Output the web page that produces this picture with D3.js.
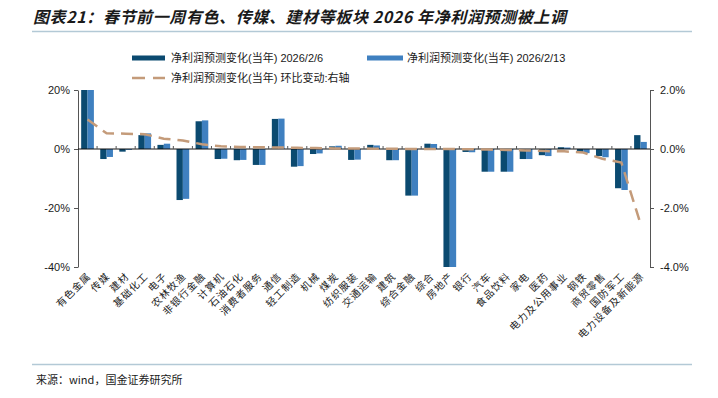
<!DOCTYPE html>
<html>
<head>
<meta charset="UTF-8">
<title>图表21</title>
<style>
    body { margin: 0; background: #ffffff; }
    text { font-family: "Liberation Sans", "Noto Sans CJK SC", sans-serif; fill: #1a1a1a; }
    .cjk { font-family: "Noto Sans CJK SC", sans-serif; }
</style>
</head>
<body>
<script src="https://cdn.jsdelivr.net/npm/d3@7/dist/d3.min.js"></script>
<script>

    //Chart data.
    var categories = ["有色金属", "传媒", "建材", "基础化工", "电子", "农林牧渔", "非银行金融", "计算机",
                      "石油石化", "消费者服务", "通信", "轻工制造", "机械", "煤炭", "纺织服装", "交通运输",
                      "建筑", "综合金融", "综合", "房地产", "银行", "汽车", "食品饮料", "家电", "医药",
                      "电力及公用事业", "钢铁", "商贸零售", "国防军工", "电力设备及新能源"];
    var forecastFeb6 = [20, -3.4, -0.9, 4.7, 1.4, -17.3, 9.4, -3.4, -3.8, -5.4, 10.2, -6.0, -1.7, 0.9, -3.7,
                        1.4, -3.8, -15.8, 1.8, -40, -1.0, -7.7, -7.7, -3.4, -2.1, 0.6, -1.1, -2.4, -13.3, 4.7];
    var forecastFeb13 = [20, -2.7, -0.3, 5.3, 1.8, -16.9, 9.7, -3.3, -3.7, -5.4, 10.3, -5.8, -1.5, 1.1, -3.6,
                         1.2, -3.8, -15.8, 1.7, -40, -1.1, -7.7, -7.7, -3.4, -2.4, 0.5, -1.4, -2.8, -13.9, 2.4];
    var weeklyChange = [1.0, 0.53, 0.52, 0.5, 0.35, 0.29, 0.16, 0.09, 0.07, 0.06, 0.05, 0.04, 0.03, 0.02, 0.02,
                        0.01, 0.01, 0.0, 0.0, 0.0, -0.01, -0.02, -0.03, -0.05, -0.07, -0.08, -0.12, -0.33, -0.46, -2.53];
    var leftTicks = [20, 0, -20, -40];
    var rightTicks = [2, 0, -2, -4];
    var seriesNames = ["净利润预测变化(当年) 2026/2/6", "净利润预测变化(当年) 2026/2/13",
                       "净利润预测变化(当年) 环比变动:右轴"];

    var darkBlue = "#0b4a70",
        lightBlue = "#3f80c0",
        lineColor = "#c49b7a";

    var svg = d3.select("body").append("svg")
                .attr("width", 718)
                .attr("height", 398);

    //Title and the rules above and below the chart.
    svg.append("text")
       .attr("class", "cjk")
       .attr("x", 33)
       .attr("y", 23)
       .attr("font-size", 16)
       .attr("font-weight", "bold")
       .attr("font-style", "italic")
       .attr("letter-spacing", 0.6)
       .text("图表21：春节前一周有色、传媒、建材等板块 2026 年净利润预测被上调");
    svg.append("line")
       .attr("x1", 32).attr("x2", 692)
       .attr("y1", 31.5).attr("y2", 31.5)
       .attr("stroke", "#b3c9d6").attr("stroke-width", 1.5);
    svg.append("line")
       .attr("x1", 32).attr("x2", 692)
       .attr("y1", 364.5).attr("y2", 364.5)
       .attr("stroke", "#b3c9d6").attr("stroke-width", 1.5);
    svg.append("text")
       .attr("class", "cjk")
       .attr("x", 36)
       .attr("y", 384)
       .attr("font-size", 11)
       .attr("fill", "#333")
       .text("来源：wind，国金证券研究所");

    //Scales.
    var plotLeft = 78, plotRight = 650;
    var x = d3.scaleBand().domain(categories).range([plotLeft, plotRight]);
    var xSeries = d3.scaleBand().domain([0, 1]).range([0, x.bandwidth()]).paddingOuter(0.5).paddingInner(0);
    var yLeft = d3.scaleLinear().domain([-40, 20]).range([267, 90]);
    var yRight = d3.scaleLinear().domain([-4, 2]).range([267, 90]);

    //Bars for both dates.
    var seriesList = [forecastFeb6, forecastFeb13],
        seriesColors = [darkBlue, lightBlue];
    seriesList.forEach(function(values, s) {
        svg.append("g")
           .selectAll("rect")
           .data(values)
           .enter().append("rect")
             .attr("x", function(d, i) { return x(categories[i]) + xSeries(s); })
             .attr("width", xSeries.bandwidth())
             .attr("y", function(d) { return yLeft(Math.max(0, d)); })
             .attr("height", function(d) { return Math.abs(yLeft(d) - yLeft(0)); })
             .attr("fill", seriesColors[s]);
    });

    //Left axis.
    var leftAxis = svg.append("g")
                      .attr("transform", "translate(" + plotLeft + ",0)")
                      .call(d3.axisLeft(yLeft).tickValues(leftTicks).tickSize(4).tickSizeOuter(0)
                              .tickFormat(function(d) { return d + "%"; }));
    //Right axis.
    var rightAxis = svg.append("g")
                       .attr("transform", "translate(" + plotRight + ",0)")
                       .call(d3.axisRight(yRight).tickValues(rightTicks).tickSize(4).tickSizeOuter(0)
                               .tickFormat(function(d) { return d.toFixed(1) + "%"; }));
    [leftAxis, rightAxis].forEach(function(a) {
        a.select(".domain").attr("stroke", "#555");
        a.selectAll(".tick line").attr("stroke", "#555");
        a.selectAll(".tick text")
         .attr("font-family", "Liberation Sans, sans-serif")
         .attr("font-size", 11)
         .attr("fill", "#1a1a1a");
    });
    leftAxis.selectAll(".tick text").attr("x", -8);
    rightAxis.selectAll(".tick text").attr("x", 10);

    //Zero line with short ticks at category boundaries.
    var zeroY = yLeft(0);
    svg.append("line")
       .attr("x1", plotLeft).attr("x2", plotRight)
       .attr("y1", zeroY).attr("y2", zeroY)
       .attr("stroke", "#111").attr("stroke-width", 1);
    svg.append("g")
       .selectAll("line")
       .data(categories.slice(1))
       .enter().append("line")
         .attr("x1", function(d) { return x(d); })
         .attr("x2", function(d) { return x(d); })
         .attr("y1", zeroY)
         .attr("y2", zeroY - 3)
         .attr("stroke", "#555");

    //Category labels, slanted.
    svg.append("g")
       .selectAll("text")
       .data(categories)
       .enter().append("text")
         .attr("class", "cjk")
         .attr("font-size", 10)
         .attr("fill", "#333")
         .attr("letter-spacing", 1)
         .attr("text-anchor", "end")
         .attr("transform", function(d) {
             return "translate(" + (x(d) + x.bandwidth() / 2 + 4) + ",277) rotate(-45)";
         })
         .text(function(d) { return d; });

    //Dashed line on the right axis.
    var changeLine = d3.line()
                       .x(function(d, i) { return x(categories[i]) + x.bandwidth() / 2; })
                       .y(function(d) { return yRight(d); });
    svg.append("path")
       .datum(weeklyChange)
       .attr("d", changeLine)
       .attr("fill", "none")
       .attr("stroke", lineColor)
       .attr("stroke-width", 2.5)
       .attr("stroke-dasharray", "12,7");

    //Legend.
    var legend = svg.append("g");
    legend.append("rect").attr("x", 132).attr("y", 55.5).attr("width", 33).attr("height", 5).attr("fill", darkBlue);
    legend.append("text").attr("x", 171).attr("y", 62).attr("font-size", 11).text(seriesNames[0]);
    legend.append("rect").attr("x", 367).attr("y", 55.5).attr("width", 36).attr("height", 5).attr("fill", lightBlue);
    legend.append("text").attr("x", 407).attr("y", 62).attr("font-size", 11).text(seriesNames[1]);
    legend.append("line")
          .attr("x1", 132).attr("x2", 165)
          .attr("y1", 78).attr("y2", 78)
          .attr("stroke", lineColor).attr("stroke-width", 2.5)
          .attr("stroke-dasharray", "13,8");
    legend.append("text").attr("x", 171).attr("y", 82).attr("font-size", 11).text(seriesNames[2]);

</script>
</body>
</html>
